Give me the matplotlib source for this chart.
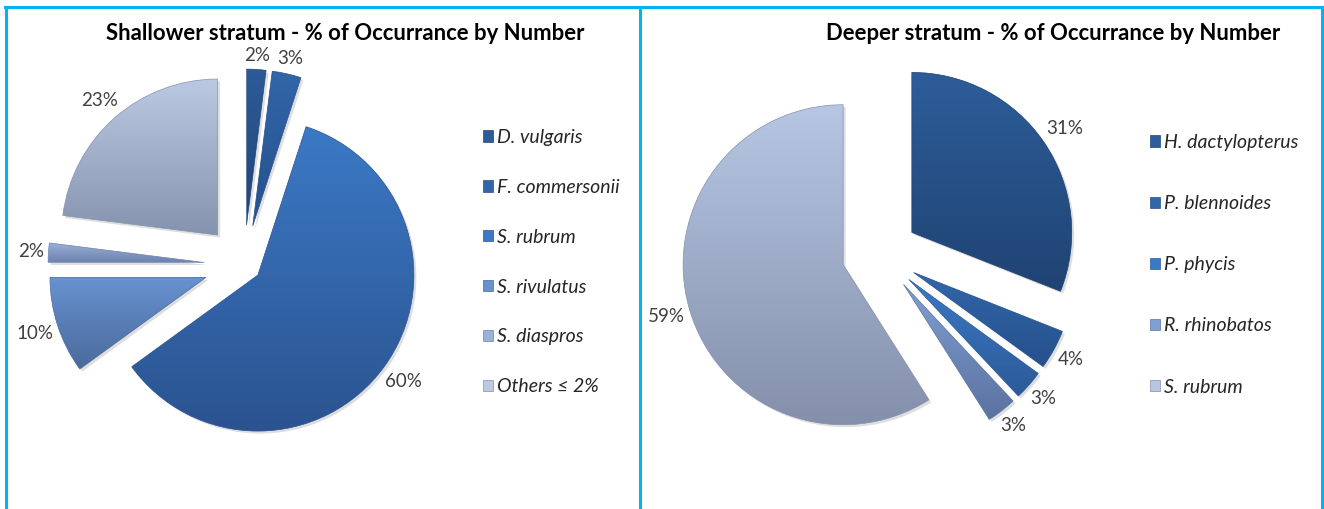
import numpy as np
import matplotlib
matplotlib.use('Agg')
import matplotlib.pyplot as plt
from matplotlib.patches import Patch, PathPatch
from matplotlib.colors import to_rgb
from matplotlib.transforms import offset_copy

# Dados
shallow_labels = ['D. vulgaris', 'F. commersonii', 'S. rubrum', 'S. rivulatus', 'S. diaspros', 'Others ≤ 2%']
shallow_pct = [2, 3, 60, 10, 2, 23]

deep_labels = ['H. dactylopterus', 'P. blennoides', 'P. phycis', 'R. rhinobatos', 'S. rubrum']
deep_pct = [31, 4, 3, 3, 59]

# cores (topo, base) do gradiente de cada fatia
shallow_cols = [('#2d5b98', '#214576'), ('#3166a9', '#26508c'), ('#3b79c5', '#2b5390'),
                ('#6792d0', '#4a6a9c'), ('#9bb1d9', '#6d83ad'), ('#bbc9e3', '#8593af')]
deep_cols = [('#2d5d99', '#1f4373'), ('#3167a9', '#26508c'), ('#3b79c5', '#2c5a98'),
             ('#80a0d2', '#5a72a0'), ('#b6c6e3', '#8490ab')]

# afastamento das fatias (fração do raio)
shallow_explode = [0.256, 0.256, 0.11, 0.256, 0.256, 0.256]
deep_explode = [0.24, 0.24, 0.24, 0.24, 0.24]

plt.rcParams['font.family'] = ['Lato', 'DejaVu Sans']
W, H = 1324, 509
fig = plt.figure(figsize=(W / 100, H / 100), dpi=100)
renderer = fig.canvas.get_renderer()


def grad_wedges(ax, wedges, cols):
    for w, (c1, c2) in zip(wedges, cols):
        x0, y0, x1, y1 = w.get_path().get_extents().extents
        t = np.linspace(0, 1, 256)[:, None, None]
        rgb = (1 - t) * np.array(to_rgb(c1)) + t * np.array(to_rgb(c2))
        rgb = np.repeat(rgb, 2, axis=1)
        # sombra leve
        sh = PathPatch(w.get_path(), facecolor=(0, 0, 0, 0.13), edgecolor='none',
                       transform=offset_copy(ax.transData, fig=fig, x=2.5, y=-2.5, units='dots'),
                       zorder=1)
        ax.add_patch(sh)
        im = ax.imshow(rgb, extent=[x0, x1, y0, y1], origin='upper', aspect='auto',
                       interpolation='bilinear', zorder=2)
        im.set_clip_path(w)
        w.set_facecolor('none')
        w.set_edgecolor(c2)
        w.set_linewidth(0.5)
        w.set_zorder(3)


def place_labels(wedges, texts, explode, r, gap=4, hh=9):
    # rotulo fora da fatia, como no Excel ("outside end")
    for w, t, e in zip(wedges, texts, explode):
        phi = np.deg2rad((w.theta1 + w.theta2) / 2)
        hw = t.get_window_extent(renderer).width / 2
        d = 1 + e + (gap + hw * abs(np.cos(phi)) + hh * abs(np.sin(phi))) / r
        t.set_position((d * np.cos(phi), d * np.sin(phi)))
        t.set_ha('center')
        t.set_va('center')


def draw_panel(px0, px1, cx, cy, r, pct, labels, cols, explode,
               title, title_x, leg_x, leg_y, leg_space):
    ax = fig.add_axes([px0 / W, 0, (px1 - px0) / W, 1])
    wedges, _, autotexts = ax.pie(pct, explode=explode, startangle=90,
                                  counterclock=False, autopct=lambda p: f'{p:.0f}%',
                                  radius=1,
                                  textprops=dict(fontsize=13.5, color='#404040'))
    grad_wedges(ax, wedges, cols)
    place_labels(wedges, autotexts, explode, r)
    ax.set_xlim(-(cx - px0) / r, (px1 - cx) / r)
    ax.set_ylim(-(H - cy) / r, cy / r)
    ax.set_aspect('auto')
    ax.axis('off')
    fig.text(title_x / W, 1 - 34 / H, title, ha='center', va='center',
             fontsize=15.9, fontweight='bold', color='black')
    handles = [Patch(facecolor=c1, edgecolor=c2, lw=0.5) for c1, c2 in cols]
    fig.legend(handles, labels, loc='upper left',
               bbox_to_anchor=(leg_x / W, 1 - leg_y / H), frameon=False,
               prop=dict(style='italic', size=14), labelcolor='#262626',
               handlelength=0.52, handleheight=0.52, handletextpad=0.22,
               labelspacing=leg_space, borderpad=0, borderaxespad=0)


draw_panel(6, 639, 244, 265, 156, shallow_pct, shallow_labels, shallow_cols,
           shallow_explode, 'Shallower stratum - % of Occurrance by Number', 345,
           483, 129, 1.69)
draw_panel(640, 1322, 880, 254, 160, deep_pct, deep_labels, deep_cols,
           deep_explode, 'Deeper stratum - % of Occurrance by Number', 1053,
           1150, 134, 2.27)

# bordas azuis dos dois quadros
bc = '#00b4f0'
for x in [6, 639.5, 1322]:
    fig.add_artist(plt.Line2D([x / W, x / W], [0, 1 - 6.5 / H], color=bc, lw=2.2))
fig.add_artist(plt.Line2D([5 / W, 1323 / W], [1 - 6.5 / H, 1 - 6.5 / H], color=bc, lw=2.2))

fig.savefig('out.png', dpi=100, facecolor='white')
